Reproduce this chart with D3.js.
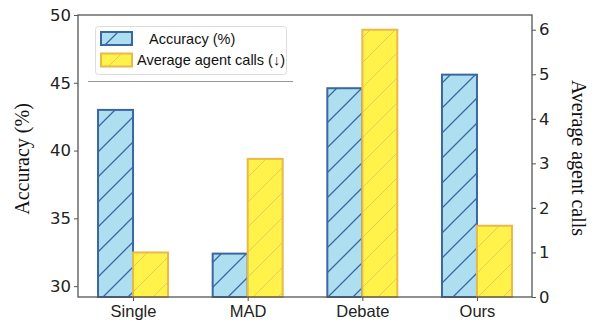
<!DOCTYPE html>
<html>
<head>
<meta charset="utf-8">
<script src="https://cdn.jsdelivr.net/npm/d3@7"></script>
<style>
  html, body { margin: 0; padding: 0; background: #fff; }
  svg { display: block; }
</style>
</head>
<body>
<svg id="chart" width="594" height="322"></svg>
<script>
// Methods compared, accuracy (%) on the left axis and agent calls on the right axis
const categories = ["Single", "MAD", "Debate", "Ours"];
const accuracy = [43.0, 32.4, 44.6, 45.6];
const agentCalls = [1.0, 3.1, 6.0, 1.6];
const accTicks = [30, 35, 40, 45, 50];
const callTicks = [0, 1, 2, 3, 4, 5, 6];
const seriesNames = ["Accuracy (%)", "Average agent calls (\u2193)"];

const svg = d3.select("#chart");
const plot = { left: 78, right: 532, top: 15, bottom: 297 };
const barW = 35;

const x = d3.scalePoint().domain(categories).range([plot.left, plot.right]).padding(0.48);
const yAcc = d3.scaleLinear().domain([29.2, 50]).range([plot.bottom, plot.top]);
const yCalls = d3.scaleLinear().domain([0, 6.33]).range([plot.bottom, plot.top]);

const blue = { fill: "#aedff1", stroke: "#3a66a2", hatch: "#3a66a2" };
const yellow = { fill: "#fff24a", stroke: "#e9b94a", hatch: "#e6bd55" };

// Diagonal hatch patterns
const defs = svg.append("defs");
function hatch(id, color, w) {
  const p = defs.append("pattern").attr("id", id)
    .attr("patternUnits", "userSpaceOnUse").attr("width", 25).attr("height", 25);
  p.append("path").attr("d", "M0,25 L25,0 M-5,5 L5,-5 M20,30 L30,20")
    .attr("stroke", color).attr("stroke-width", w).attr("fill", "none");
}
hatch("hatchBlue", blue.hatch, 1.3);
hatch("hatchYellow", yellow.hatch, 0.8);

// Bars: accuracy to the left of each category tick, calls to the right
function bars(g, values, yScale, offset, style, pat) {
  g.selectAll("rect.base").data(categories).join("rect").attr("class", "base")
    .attr("x", d => x(d) + offset).attr("width", barW)
    .attr("y", (d, i) => yScale(values[i]))
    .attr("height", (d, i) => plot.bottom - yScale(values[i]))
    .attr("fill", style.fill);
  g.selectAll("rect.hatch").data(categories).join("rect").attr("class", "hatch")
    .attr("x", d => x(d) + offset).attr("width", barW)
    .attr("y", (d, i) => yScale(values[i]))
    .attr("height", (d, i) => plot.bottom - yScale(values[i]))
    .attr("fill", pat).attr("stroke", style.stroke).attr("stroke-width", 2);
}
bars(svg.append("g"), accuracy, yAcc, -barW, blue, "url(#hatchBlue)");
bars(svg.append("g"), agentCalls, yCalls, 0, yellow, "url(#hatchYellow)");

// Frame
svg.append("rect")
  .attr("x", plot.left).attr("y", plot.top)
  .attr("width", plot.right - plot.left).attr("height", plot.bottom - plot.top)
  .attr("fill", "none").attr("stroke", "#555").attr("stroke-width", 1.3);

// Axes
function styleAxis(g, font, size) {
  g.select(".domain").remove();
  g.selectAll(".tick line").attr("stroke", "#555").attr("stroke-width", 1);
  g.selectAll(".tick text").attr("fill", "#222")
    .style("font-family", font).style("font-size", size + "px");
}
const axL = svg.append("g").attr("transform", `translate(${plot.left},0)`)
  .call(d3.axisLeft(yAcc).tickValues(accTicks).tickFormat(d3.format("d")).tickSize(4).tickPadding(3));
styleAxis(axL, "DejaVu Sans", 16.5);

const axR = svg.append("g").attr("transform", `translate(${plot.right},0)`)
  .call(d3.axisRight(yCalls).tickValues(callTicks).tickFormat(d3.format("d")).tickSize(4).tickPadding(3));
styleAxis(axR, "DejaVu Sans", 16.5);

const axB = svg.append("g").attr("transform", `translate(0,${plot.bottom})`)
  .call(d3.axisBottom(x).tickSize(4).tickPadding(4));
styleAxis(axB, "Liberation Sans", 16.5);

// Axis titles
svg.append("text")
  .attr("transform", `translate(29,${(plot.top + plot.bottom) / 2 + 3}) rotate(-90)`)
  .attr("text-anchor", "middle")
  .style("font-family", "Liberation Serif").style("font-size", "20px").attr("fill", "#111")
  .text("Accuracy (%)");
svg.append("text")
  .attr("transform", `translate(572,${(plot.top + plot.bottom) / 2 + 2}) rotate(90)`)
  .attr("text-anchor", "middle")
  .style("font-family", "Liberation Serif").style("font-size", "20px").attr("fill", "#111")
  .text("Average agent calls");

// Legend
const leg = svg.append("g");
leg.append("rect").attr("x", 95.5).attr("y", 26.5).attr("width", 191).attr("height", 48)
  .attr("rx", 3).attr("fill", "#fff").attr("stroke", "#ddd").attr("stroke-width", 1);
const legStyles = [blue, yellow];
const legPat = ["url(#hatchBlue)", "url(#hatchYellow)"];
seriesNames.forEach((name, i) => {
  const yy = 32 + i * 21.5;
  leg.append("rect").attr("x", 101).attr("y", yy).attr("width", 31).attr("height", 13)
    .attr("fill", legStyles[i].fill);
  leg.append("rect").attr("x", 101).attr("y", yy).attr("width", 31).attr("height", 13)
    .attr("fill", legPat[i]).attr("stroke", legStyles[i].stroke).attr("stroke-width", 2);
  leg.append("text").attr("x", i === 0 ? 149 : 137).attr("y", yy + 11.5)
    .style("font-family", "Liberation Sans").style("font-size", "14.5px").attr("fill", "#111")
    .text(name);
});

// Thin separator under the legend
svg.append("line").attr("x1", 88).attr("x2", 293).attr("y1", 81.5).attr("y2", 81.5)
  .attr("stroke", "#999").attr("stroke-width", 1);
</script>
</body>
</html>
